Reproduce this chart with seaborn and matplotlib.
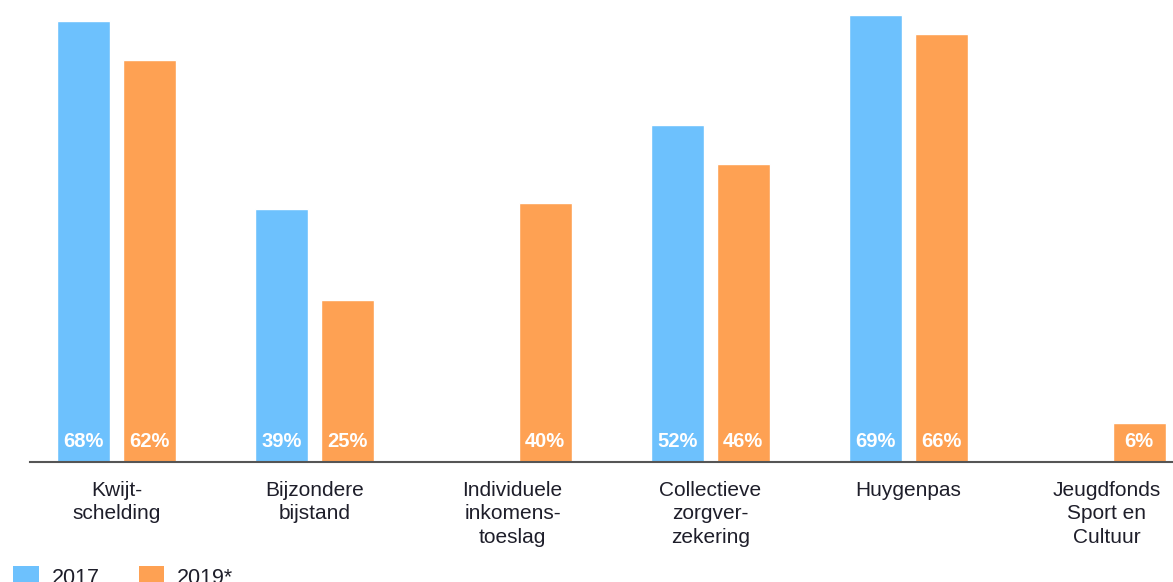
import matplotlib
matplotlib.use("Agg")
import matplotlib.pyplot as plt
from matplotlib.patches import Patch
import seaborn as sns
import pandas as pd
import numpy as np

categories = ["Kwijt-\nschelding", "Bijzondere\nbijstand", "Individuele\ninkomens-\ntoeslag",
              "Collectieve\nzorgver-\nzekering", "Huygenpas", "Jeugdfonds\nSport en\nCultuur"]
years = ["2017", "2019*"]
values_2017 = [68, 39, np.nan, 52, 69, np.nan]
values_2019 = [62, 25, 40, 46, 66, 6]

blue = "#6dc1fd"
orange = "#fea153"

df = pd.DataFrame({
    "categorie": categories * 2,
    "jaar": [years[0]] * len(categories) + [years[1]] * len(categories),
    "waarde": values_2017 + values_2019,
})

sns.set_style("white")
plt.rcParams["font.family"] = ["Liberation Sans", "DejaVu Sans"]

fig = plt.figure(figsize=(11.73, 5.82), dpi=100)
ax = fig.add_axes([30 / 1173, 120 / 582, 1 - 30 / 1173, 462 / 582])

sns.barplot(data=df, x="categorie", y="waarde", hue="jaar", order=categories,
            hue_order=years, palette=[blue, orange], width=0.662, gap=0.19,
            legend=False, ax=ax, saturation=1)

# percentages near the base of each bar
for container in ax.containers:
    for bar in container:
        h = bar.get_height()
        if np.isnan(h) or h == 0:
            continue
        cx = bar.get_x() + bar.get_width() / 2
        ax.annotate(f"{h:.0f}%", xy=(cx, 0), xytext=(0, 15), textcoords="offset points",
                    ha="center", va="center", color="white", fontsize=14.5,
                    fontweight="bold")

ax.set_ylim(0, 71.3)
ax.set_xlim(-0.437, 5.336)
ax.set_xlabel("")
ax.set_ylabel("")
ax.set_yticks([])
for s in ["top", "right", "left"]:
    ax.spines[s].set_visible(False)
ax.spines["bottom"].set_color("#555555")
ax.spines["bottom"].set_linewidth(1.5)
ax.tick_params(axis="x", length=0, pad=13.5, labelsize=15, labelcolor="#1e1e2a")
for lbl in ax.get_xticklabels():
    lbl.set_linespacing(1.3)
    lbl.set_ha("center")

handles = [Patch(facecolor=blue, edgecolor="none", label=years[0]),
           Patch(facecolor=orange, edgecolor="none", label=years[1])]
fig.legend(handles=handles, loc="upper left", bbox_to_anchor=(13 / 1173, 1 - 566 / 582),
           ncol=2, frameon=False, fontsize=15.5, handlelength=1.2, handleheight=1.2,
           handletextpad=0.6, columnspacing=1.8, borderpad=0, borderaxespad=0,
           labelcolor="#1e1e2a")

fig.savefig("out.png", dpi=100)
